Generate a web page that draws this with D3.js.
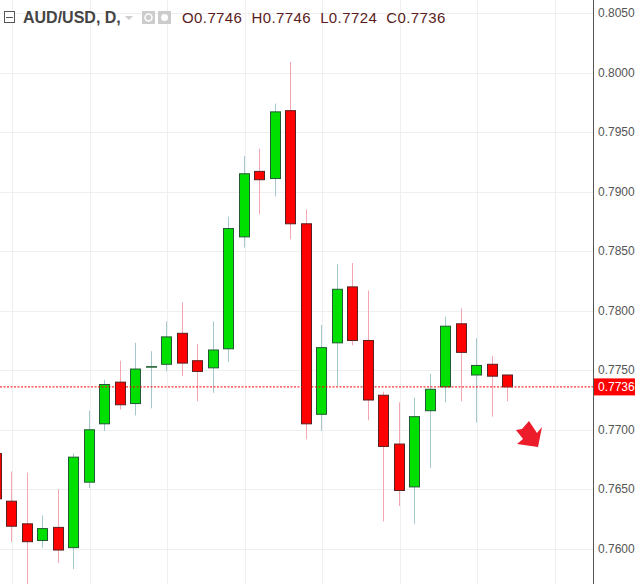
<!DOCTYPE html>
<html><head><meta charset="utf-8">
<script src="https://cdn.jsdelivr.net/npm/d3@7"></script>
<style>body{margin:0;background:#fff}svg{display:block;font-family:"Liberation Sans",Arial,sans-serif}</style>
</head><body><svg id="c" width="635" height="584"></svg>
<script>
const idx    = [-1,0,1,2,3,4,5,6,7,8,9,10,11,12,13,14,15,16,17,18,19,20,21,22,23,24,25,26,27,28,29,30,31,32];
const opens  = [0.7680,0.7640,0.7621,0.7607,0.7618,0.7601,0.7656,0.7705,0.7740,0.7722,0.7753,0.7755,0.7781,0.7758,0.7752,0.7768,0.7862,0.7917,0.7911,0.7968,0.7873,0.7713,0.7773,0.7820,0.7775,0.7729,0.7688,0.7652,0.7716,0.7736,0.7789,0.7746,0.7755,0.7746];
const highs  = [0.7682,0.7665,0.7664,0.7628,0.7650,0.7680,0.7716,0.7742,0.7758,0.7773,0.7766,0.7791,0.7807,0.7772,0.7791,0.7879,0.7930,0.7936,0.7974,0.8009,0.7885,0.7788,0.7839,0.7840,0.7817,0.7732,0.7723,0.7727,0.7747,0.7795,0.7802,0.7777,0.7762,0.7746];
const lows   = [0.7635,0.7606,0.7570,0.7601,0.7588,0.7583,0.7651,0.7699,0.7717,0.7712,0.7718,0.7749,0.7745,0.7724,0.7731,0.7757,0.7853,0.7881,0.7896,0.7860,0.7692,0.7699,0.7737,0.7771,0.7708,0.7623,0.7636,0.7621,0.7668,0.7723,0.7724,0.7706,0.7711,0.7724];
const closes = [0.7642,0.7619,0.7606,0.7617,0.7599,0.7677,0.7700,0.7738,0.7721,0.7751,0.7753,0.7778,0.7756,0.7749,0.7767,0.7869,0.7915,0.7910,0.7967,0.7873,0.7705,0.7769,0.7818,0.7775,0.7725,0.7686,0.7649,0.7711,0.7734,0.7787,0.7765,0.7754,0.7745,0.7736];
const yTicks = [0.7600,0.7650,0.7700,0.7750,0.7800,0.7850,0.7900,0.7950,0.8000,0.8050];
const lastPrice = 0.7736;
const gridIdx = [0,5,10,15,20,25,30,35];

const svg = d3.select("#c");
const x = d3.scaleLinear().domain([0,32]).range([11.3,507.3]);
const y = d3.scaleLinear().domain([0.7650,0.7800]).range([489.3,310.7]);
const axisX = 593;

svg.append("g").selectAll("line").data(yTicks).join("line")
  .attr("x1",0).attr("x2",axisX).attr("y1",d=>Math.round(y(d))+0.5).attr("y2",d=>Math.round(y(d))+0.5)
  .attr("stroke","#efefef");
svg.append("g").selectAll("line").data(gridIdx).join("line")
  .attr("x1",d=>Math.round(x(d)+1)+0.5).attr("x2",d=>Math.round(x(d)+1)+0.5).attr("y1",0).attr("y2",584)
  .attr("stroke","#efefef");

const data = idx.map((d,i)=>({i:d,o:opens[i],h:highs[i],l:lows[i],c:closes[i]}));
const g = svg.append("g");
const up = d=>d.c>=d.o;
g.selectAll("line.w").data(data).join("line")
  .attr("x1",d=>Math.round(x(d.i))+0.5).attr("x2",d=>Math.round(x(d.i))+0.5)
  .attr("y1",d=>y(d.h)).attr("y2",d=>y(d.l))
  .attr("stroke",d=>up(d)?"#a3c9cf":"#f3a5b0").attr("stroke-width",1);
g.selectAll("rect").data(data).join("rect")
  .attr("x",d=>Math.round(x(d.i))-4.5).attr("width",10)
  .attr("y",d=>y(Math.max(d.o,d.c))).attr("height",d=>Math.max(0.5,Math.abs(y(d.o)-y(d.c))))
  .attr("fill",d=>up(d)?"#00e000":"#ff0000")
  .attr("stroke",d=>up(d)?"#225a33":"#5a1f1f").attr("stroke-width",1);

svg.append("line").attr("x1",0).attr("x2",axisX).attr("y1",y(lastPrice)).attr("y2",y(lastPrice))
  .attr("stroke","#ff0000").attr("stroke-dasharray","2,1.5").attr("stroke-width",1);

svg.append("path").attr("d","M522,429 L529,421 L537,433 L542,427 L538,447 L517,444 L523,439 L516,430 Z")
  .attr("fill","#ec1c2b");

svg.append("rect").attr("x",axisX).attr("y",0).attr("width",42).attr("height",584).attr("fill","#fff");
svg.append("line").attr("x1",axisX+0.5).attr("x2",axisX+0.5).attr("y1",0).attr("y2",584).attr("stroke","#555");
svg.append("g").selectAll("text").data(yTicks).join("text")
  .attr("x",axisX+5).attr("y",d=>y(d)+4).attr("font-size",12).attr("fill","#555")
  .text(d=>d.toFixed(4));
svg.append("rect").attr("x",axisX+1).attr("y",y(lastPrice)-8.5).attr("width",41).attr("height",17).attr("fill","#ff0000");
svg.append("text").attr("x",axisX+5).attr("y",y(lastPrice)+4.5).attr("font-size",12).attr("fill","#fff").text(lastPrice.toFixed(4));

svg.append("rect").attr("x",4.5).attr("y",11.5).attr("width",10).attr("height",11).attr("fill","#fff").attr("stroke","#555");
svg.append("line").attr("x1",6).attr("x2",13).attr("y1",17.5).attr("y2",17.5).attr("stroke","#555");
svg.append("text").attr("x",23).attr("y",23).attr("font-size",16).attr("font-weight","bold").attr("fill","#444")
  .text("AUD/USD, D,");
svg.append("path").attr("d","M125,16 L133,16 L129,20 Z").attr("fill","#ccc");
svg.append("rect").attr("x",142).attr("y",11).attr("width",13).attr("height",13).attr("fill","#ccc");
svg.append("circle").attr("cx",148.5).attr("cy",17.5).attr("r",3.5).attr("fill","none").attr("stroke","#fff").attr("stroke-width",1.5);
svg.append("rect").attr("x",158).attr("y",11).attr("width",13).attr("height",13).attr("fill","#ccc");
svg.append("circle").attr("cx",164.5).attr("cy",17.5).attr("r",3.5).attr("fill","#fff");
svg.append("text").attr("x",182).attr("y",23).attr("font-size",15).attr("letter-spacing",0.4).attr("fill","#5a1c1c")
  .style("white-space","pre")
  .text(`O${opens[33].toFixed(4)}  H${highs[33].toFixed(4)}  L${lows[33].toFixed(4)}  C${closes[33].toFixed(4)}`);
</script></body></html>
